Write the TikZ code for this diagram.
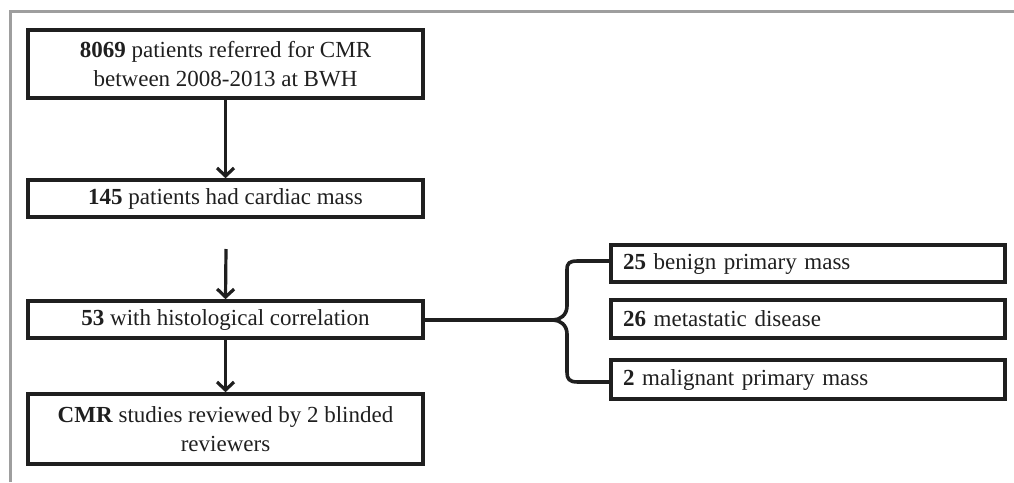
\documentclass[tikz,border=0pt]{standalone}
\usepackage{fontspec}
\setmainfont{Liberation Serif}
\usetikzlibrary{arrows.meta}
\begin{document}
\begin{tikzpicture}[x=1pt,y=-1pt,
  box/.style={draw=black!88, text=black!88, line width=3.6pt, inner sep=0pt,
    font=\fontsize{23}{29}\selectfont, align=center},
  rbox/.style={draw=black!88, text=black!88, line width=3.6pt, inner xsep=12pt, inner ysep=0pt,
    font=\fontsize{23}{29}\selectfont, align=left, text width=370pt, minimum width=394pt},
  arr/.style={draw=black!88, line width=3.2pt, -{Straight Barb[length=8pt,width=17pt,line width=3.2pt]}},
  conn/.style={draw=black!88, line width=3.6pt}]
\useasboundingbox (0,0) rectangle (1014,482);
\draw[black!38, line width=3pt] (10.5,482) -- (10.5,11) -- (1014,11);

\node[box, minimum width=395pt, minimum height=68pt] (n1) at (225.5,64)
  {\textbf{8069} patients referred for CMR\\between 2008-2013 at BWH};
\node[box, minimum width=395pt, minimum height=37pt] (n2) at (225.5,198.5)
  {\textbf{145} patients had cardiac mass};
\node[box, minimum width=395pt, minimum height=37pt] (n3) at (225.5,319.5)
  {\textbf{53} with histological correlation};
\node[box, minimum width=395pt, minimum height=70pt] (n4) at (225.5,429)
  {\textbf{CMR} studies reviewed by 2 blinded\\reviewers};

\node[rbox, minimum height=37pt] (ra) at (808,263.5) {\textbf{25} benign primary mass};
\node[rbox, minimum height=38pt] (rb) at (808,319) {\textbf{26} metastatic disease};
\node[rbox, minimum height=39pt] (rc) at (808,379.5) {\textbf{2} malignant primary mass};

\coordinate (s2) at (226,249);
\draw[arr] (n1.south) -- (n2.north);
\draw[arr] (s2) -- (n3.north);
\draw[arr] (n3.south) -- (n4.north);

\coordinate (tip) at (553,320);
\coordinate (bt) at (609,261);
\coordinate (bb) at (609,382);
\draw[conn] (n3.east |- tip) -- (tip);
\draw[conn, line join=round] (bt) -- (578,261)
  .. controls (569,261) and (567,263) .. (567,270) -- (567,306)
  .. controls (567,315) and (560,320) .. (tip)
  .. controls (560,320) and (567,325) .. (567,334) -- (567,372)
  .. controls (567,379) and (569,382) .. (578,382) -- (bb);
\end{tikzpicture}
\end{document}
